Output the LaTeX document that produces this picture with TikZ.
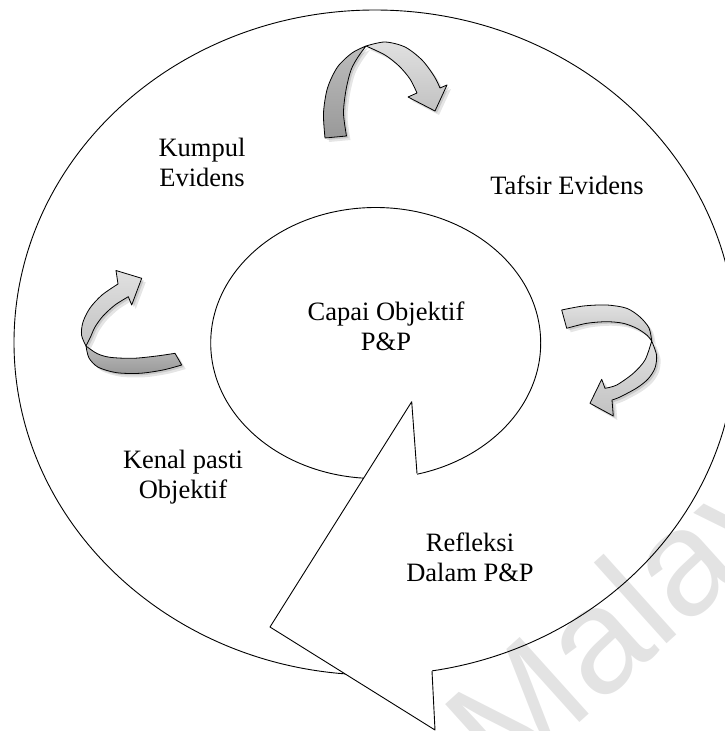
\documentclass[tikz,border=0pt]{standalone}
\usepackage{fontspec}
\setmainfont{Liberation Serif}
\newfontfamily\wmfont{Liberation Sans}
\def\ArrTopD{(325,138) -- plot[smooth] coordinates {(325,138) (323.5,113) (327.5,88) (337.5,67) (352,53) (366,46)} -- plot[smooth] coordinates {(366,46) (358,57) (351,70) (346,90) (343.5,113) (346.5,136)} -- cycle}
\def\ArrTopL{(366,46) -- plot[smooth] coordinates {(366,46) (385,42) (405,47) (422,60) (434,76) (440,88)} -- (447,85) -- (435,111) -- (408,97) -- (417,93) -- plot[smooth] coordinates {(417,93) (410,79) (399,66) (385,55) (366,46)} -- cycle}
\def\ArrLeftD{(175,353.3) -- (181.7,365) -- plot[smooth] coordinates {(181.7,365) (163,370) (140,373.3) (116.7,372.7) (98.3,367.3) (89,358) (86,346)} -- plot[smooth] coordinates {(86,346) (97,353.5) (110,357.3) (133,358.3) (156.7,356) (175,353.3)} -- cycle}
\def\ArrLeftL{(86,346) -- plot[smooth] coordinates {(86,346) (81.5,335) (83,322) (90,308) (102,295) (118,284)} -- (116,270.5) -- (141.7,278.3) -- (131.7,305) -- (128.3,296.7) -- plot[smooth] coordinates {(128.3,296.7) (115,305) (103,316) (95,327) (90.5,337) (86,346)} -- cycle}
\def\ArrRightT{(561.7,310) -- (566.7,328.3) -- plot[smooth] coordinates {(566.7,328.3) (586.7,323.3) (606.7,321.7) (623.3,323.3) (636.7,328.3) (646.7,335) (651.7,341)} -- plot[smooth] coordinates {(651.7,341) (649,328) (640,317) (626.7,308.3) (606.7,305) (583.3,306) (561.7,310)} -- cycle}
\def\ArrRightD{(651.7,341) -- plot[smooth] coordinates {(651.7,341) (656.5,355) (655,368) (648,379) (636.7,388) (620,397) (612,400)} -- (613.3,416) -- (590,403.3) -- (601.7,379.3) -- (605,388.3) -- plot[smooth] coordinates {(605,388.3) (616.7,385) (633.3,373.3) (645,360) (651.7,341)} -- cycle}
\begin{document}
\begin{tikzpicture}[x=1pt,y=-1pt,line join=round,
  outline/.style={draw=black,line width=0.9pt},
  lbl/.style={font=\fontsize{26.5}{30}\selectfont,align=center,inner sep=0pt},
  ribdark/.style={draw=black,line width=0.8pt,top color=black!26,bottom color=black!40},
  riblight/.style={draw=black,line width=0.8pt,top color=black!12,bottom color=black!24},
  shadA/.style={fill=black,opacity=0.12,shift={(2,2)}},
  shadB/.style={fill=black,opacity=0.10,shift={(4,4)}}]
\useasboundingbox (0,0) rectangle (725,731);
\clip (0,0) rectangle (725,731);
% watermark
\node[rotate=42,text=black!11,font=\fontsize{150}{150}\selectfont\wmfont,anchor=base west,inner sep=0pt] (wm) at (505,790) {Malaya};
% outer and inner bubbles
\coordinate (oc) at (375,342.5);
\coordinate (ic) at (375.7,343);
\draw[outline] (oc) ellipse [x radius=361,y radius=332.5];
\draw[outline] (ic) ellipse [x radius=165,y radius=135.5];
% big arrow pointer
\coordinate (p1) at (417,473.5);
\coordinate (p2) at (411.7,401.7);
\coordinate (p3) at (270,627);
\coordinate (p4) at (435,730);
\coordinate (p5) at (432,671);
\fill[white] (p1) -- (p2) -- (p3) -- (p4) -- (p5) -- cycle;
\draw[outline] (p1) -- (p2) -- (p3) -- (p4) -- (p5);
% curved arrows: shadows
\fill[shadB] \ArrTopD; \fill[shadB] \ArrTopL;
\fill[shadA] \ArrTopD; \fill[shadA] \ArrTopL;
\fill[shadB] \ArrLeftD; \fill[shadB] \ArrLeftL;
\fill[shadA] \ArrLeftD; \fill[shadA] \ArrLeftL;
\fill[shadB] \ArrRightT; \fill[shadB] \ArrRightD;
\fill[shadA] \ArrRightT; \fill[shadA] \ArrRightD;
% curved arrows
\path[ribdark] \ArrTopD;
\path[riblight] \ArrTopL;
\path[ribdark] \ArrLeftD;
\path[riblight] \ArrLeftL;
\path[riblight] \ArrRightT;
\path[riblight] \ArrRightD;
% labels
\node[lbl] (kumpul) at (202,162) {Kumpul\\Evidens};
\node[lbl] (tafsir) at (567,185) {Tafsir Evidens};
\node[lbl] (capai) at (386,326) {Capai Objektif\\P\&P};
\node[lbl] (kenal) at (183,477) {Kenal pasti\\Objektif};
\node[lbl] (refleksi) at (470,557) {Refleksi\\Dalam P\&P};
\end{tikzpicture}
\end{document}
